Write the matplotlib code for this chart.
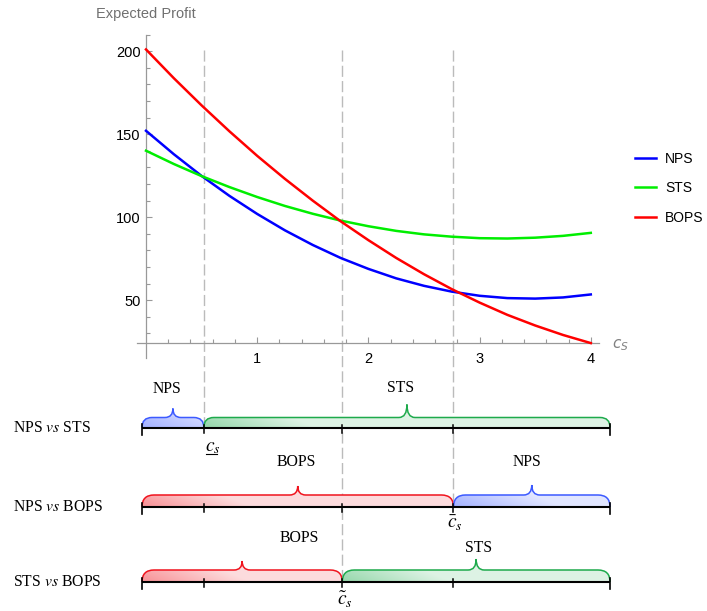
import numpy as np
import matplotlib
matplotlib.use("Agg")
import matplotlib.pyplot as plt
from matplotlib.path import Path
from matplotlib.patches import PathPatch
from matplotlib.colors import to_rgb

plt.rcParams['font.family'] = ['Liberation Sans', 'DejaVu Sans']
plt.rcParams['mathtext.fontset'] = 'stix'

# --------- data: expected profit vs. supplier cost c_s ---------

c_s = [0.0, 0.25, 0.5, 0.75, 1.0, 1.25, 1.5, 1.75, 2.0,
       2.25, 2.5, 2.75, 3.0, 3.25, 3.5, 3.75, 4.0]
nps = [152.0, 137.9, 124.8, 112.8, 101.9, 92.0, 83.2, 75.4, 68.8,
       63.1, 58.6, 55.1, 52.6, 51.2, 50.9, 51.6, 53.4]
sts = [140.0, 132.0, 124.7, 118.1, 112.1, 106.7, 102.0, 97.9, 94.5,
       91.7, 89.6, 88.2, 87.3, 87.1, 87.6, 88.7, 90.5]
bops = [201.0, 183.7, 167.3, 151.7, 136.9, 123.0, 109.9, 97.5, 86.1,
        75.4, 65.6, 56.6, 48.5, 41.1, 34.7, 29.0, 24.1]

# switching costs (curve crossings)
cut_low = 0.52     # NPS = STS
cut_tilde = 1.765  # STS = BOPS
cut_bar = 2.765    # NPS = BOPS

# pairwise comparisons: (row title, [(winner, from, to), ...])
strip_lo, strip_hi = -0.036, 4.173
rows = [
    (r'NPS $\mathit{vs}$ STS', [('NPS', strip_lo, cut_low), ('STS', cut_low, strip_hi)]),
    (r'NPS $\mathit{vs}$ BOPS', [('BOPS', strip_lo, cut_bar), ('NPS', cut_bar, strip_hi)]),
    (r'STS $\mathit{vs}$ BOPS', [('BOPS', strip_lo, cut_tilde), ('STS', cut_tilde, strip_hi)]),
]

line_col = {'NPS': '#0000ff', 'STS': '#00ee00', 'BOPS': '#ff0000'}
strip_col = {'NPS': '#3c5aff', 'STS': '#1eaa4c', 'BOPS': '#f0141e'}

# --------- layout (pixels) ---------
W, H = 707, 611
X0_PX, PX_PER = 146.0, 111.2      # pixel of c_s = 0, pixels per unit
row_y = [427.5, 507.0, 582.0]
row_h = [10, 12, 12]
row_tips = [(9, 13), (9, 10), (9, 11)]
label_pos = [[(0.184, 389), (2.289, 388)],
             [(1.349, 462), (3.426, 462)],
             [(1.376, 538), (2.995, 548)]]


def px(x):
    return X0_PX + x * PX_PER


fig = plt.figure(figsize=(W / 100, H / 100), dpi=100)

# full-figure axes: x in c_s units, y in pixels from the top
axb = fig.add_axes([0, 0, 1, 1])
axb.set_zorder(0)
axb.axis('off')

xlo, xhi = -0.08, 4.07
ylo, yhi = 15, 210
top_px, bot_px = 34.5, 358.2
ax = fig.add_axes([px(xlo) / W, 1 - bot_px / H,
                   (px(xhi) - px(xlo)) / W, (bot_px - top_px) / H])
ax.set_zorder(1)
ax.patch.set_alpha(0)

# --------- top: profit curves ---------
ax.plot(c_s, nps, color=line_col['NPS'], lw=1.8, label='NPS', clip_on=False, zorder=3)
ax.plot(c_s, sts, color=line_col['STS'], lw=1.8, label='STS', clip_on=False, zorder=3)
ax.plot(c_s, bops, color=line_col['BOPS'], lw=1.8, label='BOPS', clip_on=False, zorder=3)

ax.set_xlim(xlo, xhi)
ax.set_ylim(ylo, yhi)
for s in ['top', 'right']:
    ax.spines[s].set_visible(False)
ax.spines['left'].set_position(('data', 0))
ax.spines['bottom'].set_position(('data', 24))
for s in ['left', 'bottom']:
    ax.spines[s].set_color('#999999')
    ax.spines[s].set_linewidth(0.9)

ax.set_xticks([1, 2, 3, 4])
ax.set_xticks(np.arange(0.2, 4.01, 0.2), minor=True)
ax.set_yticks([50, 100, 150, 200])
ax.set_yticks(np.arange(30, 211, 10), minor=True)
ax.tick_params(which='both', direction='in', color='#999999', width=0.8,
               labelsize=10.5, labelcolor='black')
ax.tick_params(which='major', length=4.5)
ax.tick_params(which='minor', length=3)
ax.tick_params(axis='x', pad=6)
ax.tick_params(axis='y', pad=4)

fig.text(96 / W, 1 - 14 / H, 'Expected Profit', color='#707070', fontsize=10.5, va='center')
axb.text((612 - X0_PX) / PX_PER, 345, r'$c_S$', color='#808080', fontsize=11,
         va='center', ha='left', math_fontfamily='dejavusans')

fig.legend(*ax.get_legend_handles_labels(), loc='upper left',
           bbox_to_anchor=(635 / W, 1 - 152 / H), frameon=False, fontsize=10,
           borderpad=0, borderaxespad=0, handlelength=1.5, handletextpad=0.65,
           labelspacing=1.1)

# --------- dashed guides down to their comparison row ---------
for cut, y_end in [(cut_low, row_y[0]), (cut_tilde, row_y[2]), (cut_bar, row_y[1])]:
    axb.plot([cut, cut], [50, y_end], color='#bbbbbb', lw=1.0,
             dashes=(8, 3), zorder=1)


# --------- bottom: brace strips ---------
def brace_path(x0, x1, base, h, tip, closed):
    rx = h / PX_PER
    wx = 8 / PX_PER
    m = (x0 + x1) / 2
    top = base - h
    verts = [(x0, base), (x0, top), (x0 + rx, top),
             (m - wx, top), (m, top), (m, top - tip),
             (m, top), (m + wx, top),
             (x1 - rx, top), (x1, top), (x1, base)]
    codes = [Path.MOVETO, Path.CURVE3, Path.CURVE3,
             Path.LINETO, Path.CURVE3, Path.CURVE3,
             Path.CURVE3, Path.CURVE3,
             Path.LINETO, Path.CURVE3, Path.CURVE3]
    if closed:
        verts.append((x0, base))
        codes.append(Path.CLOSEPOLY)
    return Path(verts, codes)


def draw_strip(x0, x1, base, name, h, tip):
    rgb = np.array(to_rgb(strip_col[name]))
    fill = PathPatch(brace_path(x0, x1, base, h, tip, True),
                     facecolor='none', edgecolor='none')
    axb.add_patch(fill)
    wpx = (x1 - x0) * PX_PER
    xs = np.linspace(0, wpx, 300)
    ys = np.linspace(0, h + tip, 30)
    X, Y = np.meshgrid(xs, ys)
    t = np.clip(1 - X / 110 - Y / 45, 0, 1)
    f = 0.15 + 0.32 * t
    img = 1 - f[..., None] * (1 - rgb)[None, None, :]
    im = axb.imshow(img, extent=(x0, x1, base, base - h - tip), origin='lower',
                    aspect='auto', interpolation='bilinear', zorder=2)
    im.set_clip_path(fill)
    axb.add_patch(PathPatch(brace_path(x0, x1, base, h, tip, False),
                            facecolor='none', edgecolor=strip_col[name],
                            lw=1.1, zorder=3))


for (title, segs), base, h, tips, labs in zip(rows, row_y, row_h, row_tips, label_pos):
    for (name, a, b), tip, (lx, ly) in zip(segs, tips, labs):
        draw_strip(a, b, base, name, h, tip)
        axb.text(lx, ly, name, family='Liberation Serif', fontsize=11.3,
                 ha='center', va='center', zorder=5)
    axb.plot([strip_lo, strip_hi], [base, base], color='black', lw=1.5,
             solid_capstyle='butt', zorder=4)
    for x in [strip_lo, strip_hi]:
        axb.plot([x, x], [base - 4, base + 7], color='black', lw=1.2, zorder=4)
    for x in [cut_low, cut_tilde, cut_bar]:
        axb.plot([x, x], [base - 3, base + 5], color='black', lw=1.1, zorder=4)
    fig.text(13 / W, 1 - base / H, title, family='Liberation Serif',
             fontsize=11.3, va='center', ha='left')

# switching-cost labels under the strips
axb.text(cut_low + 1 / PX_PER, 451, r'$c_s$', fontsize=14, ha='left', va='baseline')
axb.plot([cut_low + 2 / PX_PER, cut_low + 13 / PX_PER], [454, 454], color='black', lw=0.8)
axb.text(cut_bar + 2 / PX_PER, 528, r'$\bar{c}_s$', fontsize=14, ha='center', va='baseline')
axb.text(cut_tilde + 3 / PX_PER, 605, r'$\tilde{c}_s$', fontsize=14, ha='center', va='baseline')

axb.set_xlim(-X0_PX / PX_PER, (W - X0_PX) / PX_PER)
axb.set_ylim(H, 0)

fig.savefig('out.png', dpi=100)
